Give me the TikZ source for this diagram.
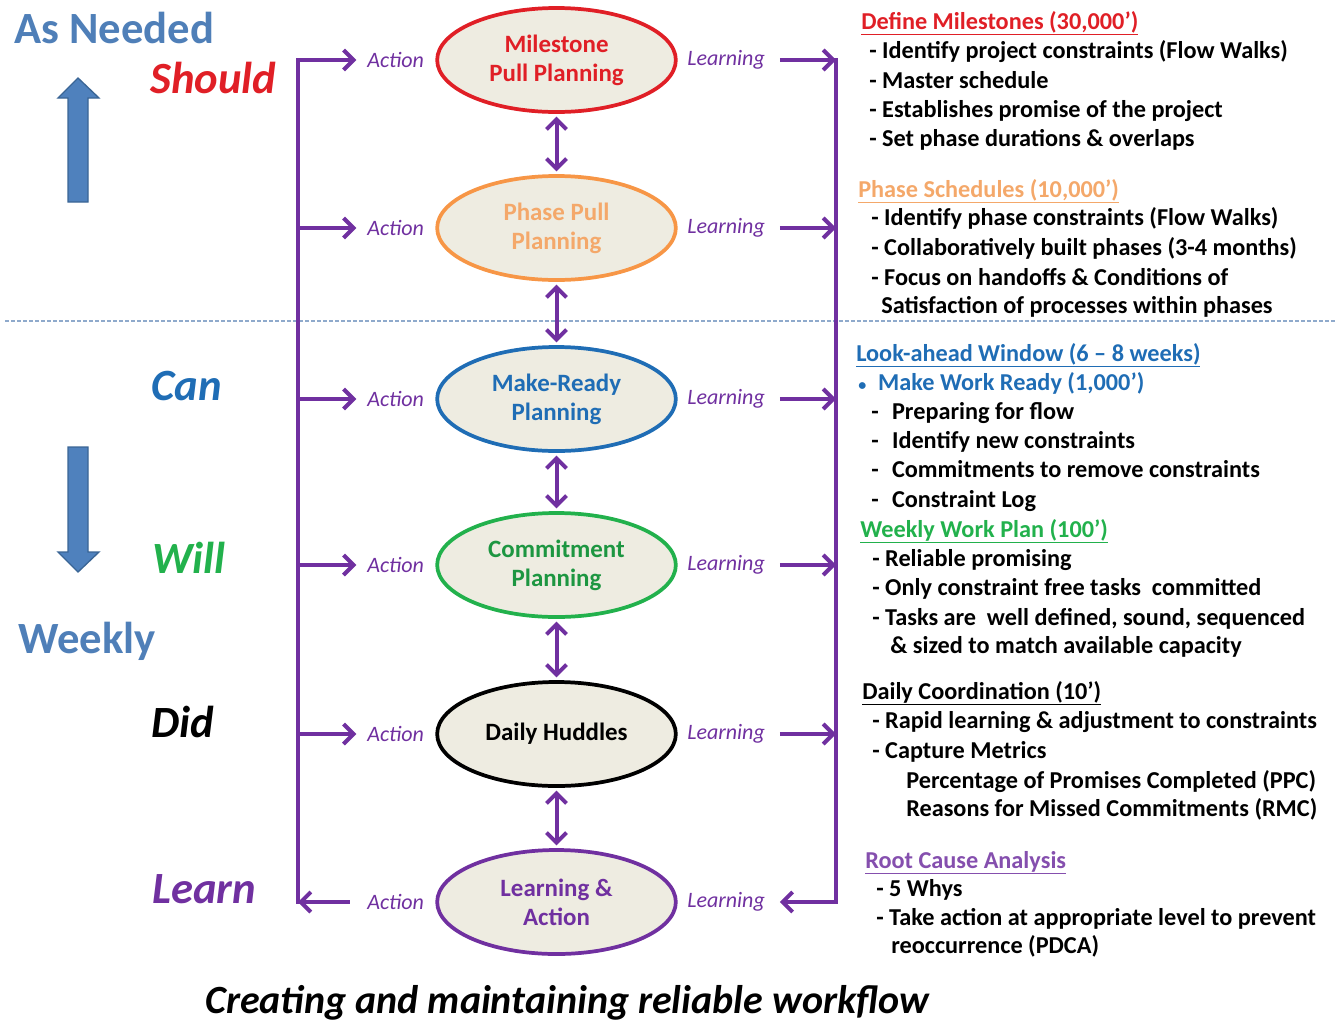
\documentclass[tikz,border=0pt]{standalone}
\usepackage{fontspec}
\setmainfont{Carlito}
\usetikzlibrary{shapes.geometric,arrows.meta}
\definecolor{ored}{HTML}{E01F26}
\definecolor{oorange}{HTML}{F79646}
\definecolor{ltorange}{HTML}{F4A86A}
\definecolor{oblue}{HTML}{1F6DB5}
\definecolor{ogreen}{HTML}{22B14C}
\definecolor{opurple}{HTML}{7030A0}
\definecolor{steel}{HTML}{4F7FB8}
\definecolor{efill}{HTML}{EEECE1}
\definecolor{dashc}{HTML}{8FAACC}
\definecolor{bigfill}{HTML}{4F81BD}
\definecolor{bigline}{HTML}{3A6595}
\tikzset{
  ell/.style={ellipse, minimum width=179pt, minimum height=78pt, fill=efill,
    line width=2.8pt, inner sep=0pt, align=center,
    font=\fontsize{18.7}{21.75}\selectfont\bfseries},
  lbl/.style={inner sep=0pt, text=opurple, font=\fontsize{16.5}{18}\selectfont\itshape},
  rt/.style={anchor=base west, inner sep=0pt, font=\fontsize{18.2}{20}\selectfont\bfseries},
  big/.style={anchor=base west, inner sep=0pt, font=\fontsize{33.5}{38}\selectfont\bfseries\itshape},
  side/.style={anchor=base west, inner sep=0pt, text=steel, font=\fontsize{33.5}{38}\selectfont\bfseries},
  pline/.style={draw=opurple, line width=3pt},
  parrow/.style={pline, -{Straight Barb[length=7.5pt,width=15pt]}},
  darrow/.style={pline, {Straight Barb[length=7.5pt,width=15pt]}-{Straight Barb[length=7.5pt,width=15pt]}, shorten <=2pt, shorten >=2pt},
  bigarrow/.style={fill=bigfill, draw=bigline, line width=1pt},
}
\begin{document}
\begin{tikzpicture}[x=0.75pt,y=-0.75pt]
\useasboundingbox (0,0) rectangle (1341,1021);

% dashed separator
\draw[dashc, line width=1pt, dash pattern=on 3pt off 1.5pt] (5,321) -- (1336,321);

% big blue arrows
\path[bigarrow] (68,202) -- (68,98) -- (58,98) -- (78,78) -- (99,98) -- (88,98) -- (88,202) -- cycle;
\path[bigarrow] (68,447) -- (68,552) -- (58,552) -- (78,572) -- (99,552) -- (88,552) -- (88,447) -- cycle;

% left labels
\node[side] (asneeded) at (14,43) {As Needed};
\node[big, text=ored] (should) at (150,93) {Should};
\node[big, text=oblue] (can) at (151,400) {Can};
\node[big, text=ogreen] (will) at (152,573) {Will};
\node[side] (weekly) at (18,653) {Weekly};
\node[big, text=black] (did) at (151,737) {Did};
\node[big, text=opurple] (learn) at (152,903) {Learn};

% ellipses
\node[ell, draw=ored, text=ored] (e1) at (556.5,60) {Milestone\\Pull Planning};
\node[ell, draw=oorange, text=ltorange] (e2) at (556.5,228) {Phase Pull\\Planning};
\node[ell, draw=oblue, text=oblue] (e3) at (556.5,399) {Make-Ready\\Planning};
\node[ell, draw=ogreen, text=ogreen!85!black] (e4) at (556.5,565) {Commitment\\Planning};
\node[ell, draw=black, text=black] (e5) at (556.5,734) {Daily Huddles};
\node[ell, draw=opurple, text=opurple] (e6) at (556.5,902) {Learning \&\\Action};

% vertical double arrows
\draw[darrow] (e1.south) -- (e2.north);
\draw[darrow] (e2.south) -- (e3.north);
\draw[darrow] (e3.south) -- (e4.north);
\draw[darrow] (e4.south) -- (e5.north);
\draw[darrow] (e5.south) -- (e6.north);

% Action / Learning labels
\foreach \i/\y in {1/60,2/228,3/399,4/565,5/734,6/902}{
  \node[lbl, anchor=west] (a\i) at (367,\y) {Action};
  \node[lbl, anchor=west] (l\i) at (687,\y) {Learning};
}

% bus coordinates
\coordinate (LT) at (298,60);
\coordinate (LB) at (298,902);
\coordinate (RT) at (836,60);
\coordinate (RB) at (836,902);
\foreach \i/\y in {2/228,3/399,4/565,5/734}{
  \coordinate (LM\i) at (298,\y);
  \coordinate (RM\i) at (836,\y);
}

\draw[pline, line cap=rect] (LB) -- (LT);
\draw[pline, line cap=rect] (RT) -- (RB);
\draw[parrow, shorten >=8pt] (LT) -- (a1.west);
\foreach \i in {2,3,4,5}{
  \draw[parrow, shorten >=8pt] (LM\i) -- (a\i.west);
  \draw[parrow, shorten <=11pt] (l\i.east) -- (RM\i);
}
\draw[parrow, shorten <=11pt] (l1.east) -- (RT);
\draw[parrow, shorten <=13pt] (a6.west) -- (LB);
\draw[parrow, shorten >=11pt] (RB) -- (l6.east);

% right column
\node[rt, text=ored] (h1) at (861,29) {\underline{Define Milestones (30,000’)}};
\node[rt] (t11) at (869,58) {- Identify project constraints (Flow Walks)};
\node[rt] (t12) at (869,88) {- Master schedule};
\node[rt] (t13) at (869,117) {- Establishes promise of the project};
\node[rt] (t14) at (869,146) {- Set phase durations \& overlaps};

\node[rt, text=ltorange] (h2) at (858,197) {\underline{Phase Schedules (10,000’)}};
\node[rt] (t21) at (871,225) {- Identify phase constraints (Flow Walks)};
\node[rt] (t22) at (871,255) {- Collaboratively built phases (3-4 months)};
\node[rt] (t23) at (871,285) {- Focus on handoffs \& Conditions of};
\node[rt] (t24) at (881,313) {Satisfaction of processes within phases};

\node[rt, text=oblue] (h3) at (856,361) {\underline{Look-ahead Window (6 – 8 weeks)}};
\node[rt, text=oblue] (t30) at (858,390) {{\fontsize{12}{12}\selectfont •}\hspace{9pt}Make Work Ready (1,000’)};
\node[rt] (t31) at (871,419) {-\hspace{10pt}Preparing for flow};
\node[rt] (t32) at (871,448) {-\hspace{10pt}Identify new constraints};
\node[rt] (t33) at (871,477) {-\hspace{10pt}Commitments to remove constraints};
\node[rt] (t34) at (871,507) {-\hspace{10pt}Constraint Log};

\node[rt, text=ogreen] (h4) at (860,537) {\underline{Weekly Work Plan (100’)}};
\node[rt] (t41) at (872,566) {- Reliable promising};
\node[rt] (t42) at (872,595) {- Only constraint free tasks\hspace{4pt} committed};
\node[rt] (t43) at (872,625) {- Tasks are\hspace{4pt} well defined, sound, sequenced};
\node[rt] (t44) at (890,653) {\& sized to match available capacity};

\node[rt] (h5) at (862,699) {\underline{Daily Coordination (10’)}};
\node[rt] (t51) at (872,728) {- Rapid learning \& adjustment to constraints};
\node[rt] (t52) at (872,758) {- Capture Metrics};
\node[rt] (t53) at (906,788) {Percentage of Promises Completed (PPC)};
\node[rt] (t54) at (906,816) {Reasons for Missed Commitments (RMC)};

\node[rt, text=opurple!85!white] (h6) at (865,868) {\underline{Root Cause Analysis}};
\node[rt] (t61) at (876,896) {- 5 Whys};
\node[rt] (t62) at (876,925) {- Take action at appropriate level to prevent};
\node[rt] (t63) at (891,953) {reoccurrence (PDCA)};

% caption
\node[anchor=base west, inner sep=0pt, font=\fontsize{30}{34}\selectfont\bfseries\itshape] (cap) at (205,1013) {Creating and maintaining reliable workflow};
\end{tikzpicture}
\end{document}
